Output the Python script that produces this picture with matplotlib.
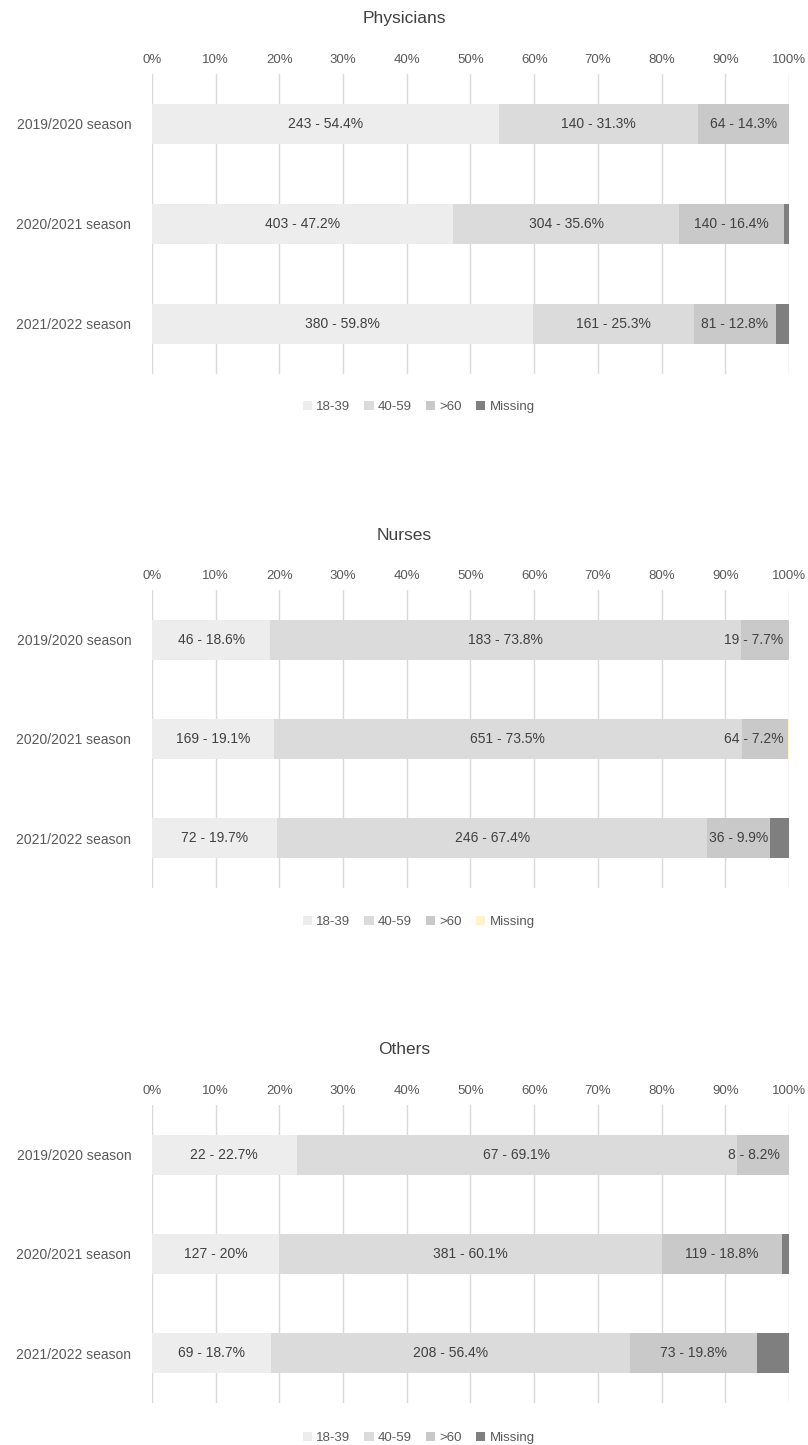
import matplotlib.pyplot as plt
from matplotlib.patches import Patch

# =====================================================
# DATA
# =====================================================

seasons = ["2019/2020 season", "2020/2021 season", "2021/2022 season"]
age_groups = ["18-39", "40-59", ">60", "Missing"]

phys_n = [[243, 140, 64], [403, 304, 140], [380, 161, 81]]
phys_pct = [[54.4, 31.3, 14.3, 0.0], [47.2, 35.6, 16.4, 0.8], [59.8, 25.3, 12.8, 2.1]]

nurse_n = [[46, 183, 19], [169, 651, 64], [72, 246, 36]]
nurse_pct = [[18.6, 73.8, 7.7, 0.0], [19.1, 73.5, 7.2, 0.2], [19.7, 67.4, 9.9, 3.0]]

other_n = [[22, 67, 8], [127, 381, 119], [69, 208, 73]]
other_pct = [[22.7, 69.1, 8.2, 0.0], [20, 60.1, 18.8, 1.1], [18.7, 56.4, 19.8, 5.1]]

# colour of the "Missing" piece, per season (legend uses the first of each list
# except nurses, where the legend shows the light yellow)
phys_miss = ["#7F7F7F", "#7F7F7F", "#7F7F7F"]
nurse_miss = ["#FFF2CC", "#FFF2CC", "#7F7F7F"]
other_miss = ["#7F7F7F", "#7F7F7F", "#7F7F7F"]

panels = [
    ("Physicians", phys_n, phys_pct, phys_miss),
    ("Nurses", nurse_n, nurse_pct, nurse_miss),
    ("Others", other_n, other_pct, other_miss),
]

# =====================================================
# STYLE
# =====================================================

plt.rcParams['font.family'] = ['Liberation Sans', 'DejaVu Sans']
base_colors = ["#EDEDED", "#DBDBDB", "#C9C9C9"]
txt_col = "#595959"
grid_col = "#D9D9D9"

fig = plt.figure(figsize=(8.08, 14.45), dpi=100)

# axes boxes in figure fractions (left, bottom, width, height)
boxes = [
    [0.1881, 0.7412, 0.7884, 0.2076],
    [0.1881, 0.3855, 0.7884, 0.2062],
    [0.1881, 0.0291, 0.7884, 0.2062],
]
title_y = [1 - 18 / 1445, 1 - 535 / 1445, 1 - 1050 / 1445]
legend_y = [1 - 407 / 1445, 1 - 922 / 1445, 1 - 1438 / 1445]

def fmt_pct(v):
    s = "%.1f" % v
    if s.endswith(".0"):
        s = s[:-2]
    return s + "%"

for k, ((title, counts, pcts, miss), box) in enumerate(zip(panels, boxes)):
    ax = fig.add_axes(box)

    for i, season in enumerate(seasons):
        colors = base_colors + [miss[i]]
        left = 0
        for j in range(4):
            w = pcts[i][j]
            if w > 0:
                ax.barh(i, w, left=left, height=0.4, color=colors[j],
                        edgecolor='none', zorder=2)
            if j < 3:
                cx = left + w / 2
                cx = min(cx, 94.5)
                ax.text(cx, i, "%d - %s" % (counts[i][j], fmt_pct(w)),
                        ha='center', va='center', fontsize=10,
                        color="#404040", zorder=3)
            left += w

    ax.set_xlim(0, 100)
    ax.set_ylim(2.5, -0.5)
    ax.set_yticks(range(3))
    ax.set_yticklabels(seasons, fontsize=10, color=txt_col)
    ax.set_xticks(range(0, 101, 10))
    ax.set_xticklabels(["%d%%" % t for t in range(0, 101, 10)],
                       fontsize=9.5, color=txt_col)
    ax.xaxis.tick_top()
    ax.tick_params(axis='both', length=0)
    ax.tick_params(axis='x', pad=6)
    ax.tick_params(axis='y', pad=15)
    for t in range(0, 101, 10):
        ax.axvline(t, color=grid_col, lw=1, zorder=1)
    for s in ax.spines.values():
        s.set_visible(False)

    fig.text(0.5, title_y[k], title, ha='center', va='center',
             fontsize=12.5, color="#404040")

    leg_colors = base_colors + [miss[0]]
    handles = [Patch(facecolor=c, edgecolor='none') for c in leg_colors]
    fig.legend(handles, age_groups, loc='center',
               bbox_to_anchor=(0.518, legend_y[k]), ncol=4, frameon=False,
               fontsize=9.5, handlelength=0.7, handleheight=0.7,
               handletextpad=0.3, columnspacing=1.1, labelcolor=txt_col)

fig.savefig("out.png", dpi=100)
